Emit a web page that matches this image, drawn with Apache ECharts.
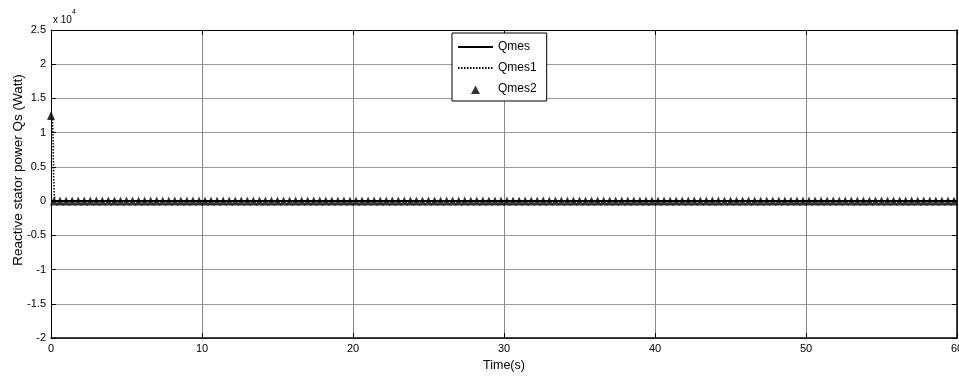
<!DOCTYPE html>
<html>
<head>
<meta charset="utf-8">
<script src="https://cdn.jsdelivr.net/npm/echarts@6/dist/echarts.min.js"></script>
<style>
  html, body { margin: 0; padding: 0; background: #fff; }
  #chart { width: 959px; height: 376px; }
</style>
</head>
<body>
<div id="chart"></div>
<script>
// axis ticks
const timeTicks = [0, 10, 20, 30, 40, 50, 60]
const powerTicks = [-20000, -15000, -10000, -5000, 0, 5000, 10000, 15000, 20000, 25000]

// Qmes: flat at zero the whole run
const qmesTime = [0, 60]
const qmesValue = [0, 0]

// Qmes1: short start-up spike, then zero
const qmes1Time = [0.1, 0.14, 0.17, 0.22, 0.3, 60]
const qmes1Value = [12000, 9000, 4000, 800, 0, 0]

// Qmes2: marker every 0.4 s, first one at the start-up peak
const qmes2Step = 0.4
const qmes2First = [0, 12500]
const qmes2Rest = 0 // value read for every later marker

const qmes2Data = [qmes2First]
for (let t = 0.2; t < 60; t += qmes2Step) {
  qmes2Data.push([+t.toFixed(2), qmes2Rest])
}

const pairs = (xs, ys) => xs.map((x, i) => [x, ys[i]])

const chart = echarts.init(document.getElementById('chart'))
const font = 'Liberation Sans, Arial, sans-serif'

// small triangle centred in a 35x10 legend slot
const triangleIcon = 'path://M0,0L0.01,0M35,0L35.01,0M0,10L0.01,10M35,10L35.01,10M13,10L17.5,1.5L22,10Z'

chart.setOption({
  animation: false,
  textStyle: { fontFamily: font, color: '#000' },
  grid: { left: 51, right: 2, top: 30, bottom: 38, outerBoundsMode: 'none' },
  legend: {
    orient: 'vertical',
    left: 452,
    top: 33,
    padding: [8, 10, 6, 5],
    itemWidth: 35,
    itemHeight: 10,
    itemGap: 9,
    backgroundColor: '#fff',
    borderColor: '#000',
    borderWidth: 1,
    textStyle: { fontFamily: font, fontSize: 12, color: '#000' },
    data: [
      { name: 'Qmes', itemStyle: { opacity: 0 } },
      { name: 'Qmes1', itemStyle: { opacity: 0 } },
      { name: 'Qmes2', icon: triangleIcon, itemStyle: { color: '#000' } }
    ]
  },
  graphic: [
    {
      type: 'text',
      left: 53,
      top: 9,
      style: {
        text: '{a|x 10}{b|4}',
        rich: {
          a: { fontFamily: font, fontSize: 10, fill: '#000', padding: [6, 0, 0, 0] },
          b: { fontFamily: font, fontSize: 7, fill: '#000', verticalAlign: 'top' }
        }
      }
    },
    {
      type: 'text',
      x: 18,
      y: 170,
      rotation: Math.PI / 2,
      style: {
        text: 'Reactive stator power Qs (Watt)',
        fontFamily: font,
        fontSize: 13.5,
        fill: '#000',
        align: 'center',
        verticalAlign: 'middle'
      }
    }
  ],
  xAxis: [
    {
      type: 'value',
      min: timeTicks[0],
      max: timeTicks[timeTicks.length - 1],
      interval: 10,
      name: 'Time(s)',
      nameLocation: 'middle',
      nameGap: 21,
      nameTextStyle: { fontFamily: font, fontSize: 12.5, color: '#000' },
      axisLine: { onZero: false, lineStyle: { color: '#000', width: 1.5 } },
      axisTick: { inside: true, length: 5, lineStyle: { color: '#000' } },
      axisLabel: { fontFamily: font, fontSize: 11, color: '#000', margin: 5, showMaxLabel: true },
      splitLine: { show: true, lineStyle: { color: '#8a8a8a', width: 1 } }
    },
    {
      type: 'value',
      position: 'top',
      min: timeTicks[0],
      max: timeTicks[timeTicks.length - 1],
      interval: 10,
      axisLine: { onZero: false, lineStyle: { color: '#000', width: 1 } },
      axisTick: { inside: true, length: 5, lineStyle: { color: '#000' } },
      axisLabel: { show: false },
      splitLine: { show: false }
    }
  ],
  yAxis: [
    {
      type: 'value',
      min: powerTicks[0],
      max: powerTicks[powerTicks.length - 1],
      interval: 5000,
      axisLine: { onZero: false, lineStyle: { color: '#000', width: 1 } },
      axisTick: { inside: true, length: 5, lineStyle: { color: '#000' } },
      axisLabel: {
        fontFamily: font,
        fontSize: 11,
        color: '#000',
        margin: 5,
        formatter: v => String(v / 10000)
      },
      splitLine: { show: true, lineStyle: { color: '#9a9a9a', width: 1 } }
    },
    {
      type: 'value',
      position: 'right',
      min: powerTicks[0],
      max: powerTicks[powerTicks.length - 1],
      interval: 5000,
      axisLine: { onZero: false, lineStyle: { color: '#000', width: 1.5 } },
      axisTick: { inside: true, length: 5, lineStyle: { color: '#000' } },
      axisLabel: { show: false },
      splitLine: { show: false }
    }
  ],
  series: [
    {
      name: 'Qmes',
      type: 'line',
      data: pairs(qmesTime, qmesValue),
      symbol: 'none',
      color: '#000',
      lineStyle: { color: '#000', width: 2 },
      z: 2
    },
    {
      name: 'Qmes1',
      type: 'line',
      data: pairs(qmes1Time, qmes1Value),
      symbol: 'none',
      color: '#000',
      lineStyle: { color: '#000', width: 1.5, type: [1.5, 1.5] },
      z: 3
    },
    {
      name: 'Qmes2',
      type: 'scatter',
      data: qmes2Data,
      symbol: 'triangle',
      symbolSize: [8, 9],
      itemStyle: { color: '#000' },
      z: 4
    }
  ]
})
</script>
</body>
</html>
